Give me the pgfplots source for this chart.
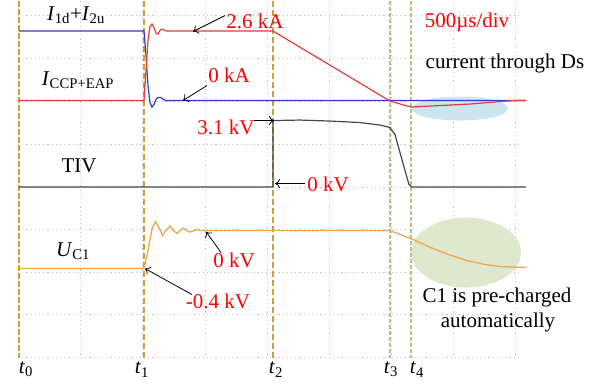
\documentclass[border=0pt]{standalone}
\usepackage{pgfplots}
\pgfplotsset{compat=1.18}
\usepackage{fontspec}
\setmainfont{Liberation Serif}
\usetikzlibrary{arrows.meta}
\definecolor{tblue}{RGB}{55,55,205}
\definecolor{tred}{RGB}{225,60,60}
\definecolor{tblack}{RGB}{70,70,70}
\definecolor{torange}{RGB}{236,165,80}
\definecolor{tgold}{RGB}{200,160,55}
\definecolor{tolive}{RGB}{185,190,130}
\definecolor{eblue}{RGB}{205,229,238}
\definecolor{egreen}{RGB}{221,232,205}
\begin{document}
\begin{tikzpicture}[font=\fontsize{21}{25}\selectfont]
\begin{axis}[
  scale only axis, width=504pt, height=357pt,
  xmin=18, xmax=522, ymin=0, ymax=357, y dir=reverse,
  axis line style={draw=none},
  xtick={80,142,205,267,329,391,453,515},
  ytick={15,58,101,144,187,229,272,314,357},
  xticklabels={}, yticklabels={}, major tick length=0pt,
  grid=major, major grid style={dash pattern=on 1.2pt off 3pt, gray!45, line width=1pt},
  clip=false,
]
% bounding box of the whole picture
\path (axis cs:0,0) rectangle (axis cs:605,386);
% highlight ellipses
\fill[eblue] (axis cs:460,108) ellipse [x radius=48pt, y radius=12pt];
\fill[egreen] (axis cs:466,252) ellipse [x radius=55pt, y radius=35pt];
% event lines
\draw[tgold, line width=1.1pt, dash pattern=on 6pt off 2pt] (axis cs:19,0) -- (axis cs:19,357);
\draw[tgold, line width=1.1pt, dash pattern=on 6pt off 3pt] (axis cs:144,0) -- (axis cs:144,357);
\draw[tgold, line width=1.1pt, dash pattern=on 6pt off 3pt] (axis cs:273,0) -- (axis cs:273,357);
\draw[tolive, line width=1.1pt, dash pattern=on 4pt off 2pt] (axis cs:390,0) -- (axis cs:390,357);
\draw[tolive, line width=1.1pt, dash pattern=on 4pt off 2pt] (axis cs:411,0) -- (axis cs:411,357);
% traces
\addplot[tblue, line width=1.2pt] coordinates {
(19,30.5) (144,30.5) (146,55) (148,85) (150,102) (152,106.5) (154,104) (156,99)
(158,97) (160.5,96.8) (163,98.5) (166,100.2) (170,100) (526,100)};
\addplot[tred, line width=1.2pt] coordinates {
(19,100) (144,100) (146,70) (148,40) (150,26) (152,23.5) (154,27) (156,32.5)
(158,33.5) (160,30) (162,28.5) (164,29.5) (167,30.5) (273,30.5) (390,100.5)
(411,106.5) (420,106) (440,105) (470,103.5) (500,101) (515,100) (526,100)};
\addplot[tblack, line width=1.2pt] coordinates {
(19,186.5) (273,186.5) (273,120) (300,119.5) (330,120.5) (360,122) (380,124.5)
(390,127) (395,134) (400,152) (405,170) (409,184) (412,186.5) (526,186.5)};
\addplot[torange, line width=1.3pt] coordinates {
(19,268) (144,268) (148,250) (152,228) (155.5,221) (159,227) (162.5,235) (166,230)
(170,225.5) (173.5,230) (177,233) (180,230) (183,227.5) (187,230) (190,231.5)
(194,230) (197,229) (201,230) (205,230) (390,230) (395,232) (411,238) (433,248)
(450,254.5) (467,260) (485,264) (500,266) (526,267)};
% signal names
\node at (axis cs:76,15) {\textit{I}\textsubscript{1d}+\textit{I}\textsubscript{2u}};
\node at (axis cs:78,80) {\textit{I}\textsubscript{CCP+EAP}};
\node at (axis cs:79,165) {TIV};
\node at (axis cs:73,251) {\textit{U}\textsubscript{C1}};
% annotations
\node[red] at (axis cs:255,21) {2.6 kA};
\node[red] at (axis cs:229,75) {0 kA};
\node[red] at (axis cs:226,127) {3.1 kV};
\node[red] at (axis cs:328,184) {0 kV};
\node[red] at (axis cs:234,260) {0 kV};
\node[red] at (axis cs:218,301) {-0.4 kV};
\node[red] at (axis cs:467,22) {500µs/div};
\node at (axis cs:505,63) {current through Ds};
\node at (axis cs:497,297) {C1 is pre-charged};
\node at (axis cs:498,322) {automatically};
% arrows
\begin{scope}[-{To[length=5pt,width=9pt]}, line width=0.8pt, black]
\draw (axis cs:225,15) -- (axis cs:193,31);
\draw (axis cs:207,85) -- (axis cs:183,100);
\draw (axis cs:254,120) -- (axis cs:274,120);
\draw (axis cs:305,183) -- (axis cs:275,183);
\draw (axis cs:221,252) -- (axis cs:206,231);
\draw (axis cs:192,294) -- (axis cs:145,268);
\end{scope}
% time markers
\node at (axis cs:26,369) {\textit{t}\textsubscript{0}};
\node at (axis cs:142,369) {\textit{t}\textsubscript{1}};
\node at (axis cs:276,369) {\textit{t}\textsubscript{2}};
\node at (axis cs:391,369) {\textit{t}\textsubscript{3}};
\node at (axis cs:417,369) {\textit{t}\textsubscript{4}};
\end{axis}
\end{tikzpicture}
\end{document}
